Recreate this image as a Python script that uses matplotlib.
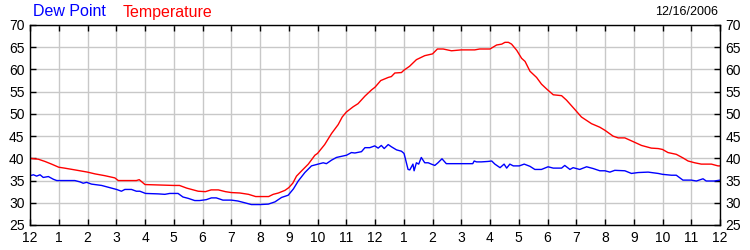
import matplotlib
matplotlib.use("Agg")
import matplotlib.pyplot as plt
import numpy as np

plt.rcParams["font.family"] = ["Liberation Sans", "DejaVu Sans"]

# hours since midnight
temp_hours = [0.0, 0.29, 0.52, 0.75, 1.0, 1.2, 1.56, 2.0, 2.26, 2.6, 2.95, 3.07, 3.7, 3.8, 4.0,
              5.0, 5.2, 5.45, 5.85, 6.1, 6.3, 6.55, 6.8, 7.0, 7.3, 7.6, 7.85, 8.0,
              8.3, 8.46, 8.64, 8.87, 9.0, 9.14, 9.27, 9.45, 9.68, 9.91, 10.0, 10.25, 10.49,
              10.72, 10.86, 11.0, 11.24, 11.41, 11.65, 11.88, 12.0, 12.2, 12.46, 12.57, 12.69,
              12.92, 13.0, 13.2, 13.44, 13.73, 14.0, 14.17, 14.37, 14.66, 15.0, 15.47, 15.64,
              15.93, 16.0, 16.23, 16.41, 16.52, 16.64, 16.75, 16.93, 17.1, 17.22, 17.39, 17.62,
              17.79, 17.97, 18.2, 18.49, 18.66, 18.95, 19.18, 19.53, 19.82, 20.0, 20.28, 20.46,
              20.69, 21.0, 21.27, 21.61, 21.85, 22.0, 22.19, 22.48, 22.71, 22.89, 23.12, 23.35,
              23.7, 23.93, 24.0]
temperature = [40.0, 39.8, 39.3, 38.7, 38.0, 37.8, 37.4, 36.9, 36.5, 36.1, 35.6, 35.0, 35.0, 35.2, 34.1,
               33.9, 33.9, 33.3, 32.6, 32.5, 32.9, 32.9, 32.5, 32.3, 32.2, 31.9, 31.4, 31.4,
               31.4, 31.9, 32.2, 32.8, 33.4, 34.4, 36.0, 37.2, 38.7, 40.7, 41.1, 43.1, 45.6,
               47.6, 49.3, 50.4, 51.6, 52.3, 54.0, 55.4, 56.0, 57.5, 58.2, 58.4, 59.2,
               59.3, 59.8, 60.7, 62.2, 63.1, 63.5, 64.6, 64.6, 64.2, 64.4, 64.4, 64.6,
               64.6, 64.6, 65.5, 65.7, 66.1, 66.1, 65.7, 64.3, 62.5, 61.8, 59.6, 58.2,
               56.7, 55.6, 54.3, 54.1, 53.1, 51.0, 49.3, 47.8, 47.0, 46.3, 45.0, 44.6,
               44.6, 43.7, 42.9, 42.3, 42.2, 42.0, 41.3, 40.9, 40.1, 39.4, 39.0, 38.7,
               38.7, 38.3, 38.3]

dew_hours = [0.0, 0.12, 0.23, 0.35, 0.46, 0.64, 0.81, 0.93, 1.56, 1.74, 1.85, 1.97, 2.14, 2.49,
             2.72, 3.01, 3.18, 3.3, 3.53, 3.7, 3.82, 4.02, 4.46, 4.69, 4.86, 5.15, 5.32, 5.5,
             5.73, 5.9, 6.13, 6.31, 6.48, 6.71, 7.0, 7.23, 7.47, 7.7, 8.0,
             8.29, 8.52, 8.75, 8.98, 9.16, 9.33, 9.56, 9.79, 10.02, 10.2, 10.31, 10.49, 10.66,
             11.01, 11.18, 11.3, 11.53, 11.65, 11.82, 11.99, 12.11, 12.22, 12.32, 12.46, 12.57,
             12.75, 12.92, 13.01, 13.15, 13.21, 13.32, 13.36, 13.44, 13.52, 13.61, 13.73, 13.85,
             13.96, 14.08, 14.19, 14.33, 14.48, 15.0, 15.4, 15.45, 15.53, 15.7, 15.93, 16.06,
             16.17, 16.35, 16.49, 16.58, 16.69, 16.81, 17.02, 17.19, 17.39, 17.56, 17.79, 18.02,
             18.2, 18.49, 18.6, 18.78, 18.89, 19.12, 19.36, 19.59, 19.82, 20.0, 20.17, 20.34,
             20.69, 20.92, 21.15, 21.5, 21.85, 22.0, 22.31, 22.48, 22.71, 23.0, 23.18, 23.41,
             23.52, 23.81, 24.0]
dew_point = [36.1, 36.3, 36.0, 36.3, 35.7, 35.9, 35.3, 35.0, 35.0, 34.7, 34.4, 34.6, 34.2, 33.9,
             33.5, 33.0, 32.6, 33.0, 33.0, 32.6, 32.6, 32.1, 32.0, 31.9, 32.1, 32.1, 31.3, 31.0,
             30.5, 30.5, 30.7, 31.1, 31.1, 30.6, 30.6, 30.4, 30.0, 29.6, 29.6,
             29.7, 30.2, 31.2, 31.7, 33.1, 34.9, 36.8, 38.3, 38.7, 39.0, 38.8, 39.6, 40.2,
             40.7, 41.3, 41.2, 41.5, 42.4, 42.4, 42.8, 42.3, 42.9, 42.2, 43.1, 42.6,
             41.9, 41.6, 41.1, 37.5, 37.4, 38.7, 37.2, 39.0, 38.7, 40.2, 39.0, 39.0,
             38.7, 38.4, 39.0, 39.9, 38.8, 38.8, 38.8, 39.4, 39.2, 39.2, 39.3, 39.4,
             38.7, 37.9, 38.7, 37.8, 38.7, 38.3, 38.3, 38.7, 38.2, 37.5, 37.5, 38.1,
             37.8, 37.8, 38.4, 37.5, 37.9, 37.5, 38.1, 37.7, 37.2, 37.2, 36.9, 37.3,
             37.2, 36.6, 36.8, 36.9, 36.6, 36.4, 36.2, 36.2, 35.1, 35.1, 34.9, 35.4,
             34.9, 34.9, 35.1]

hour_labels = ["12", "1", "2", "3", "4", "5", "6", "7", "8", "9", "10", "11",
               "12", "1", "2", "3", "4", "5", "6", "7", "8", "9", "10", "11", "12"]
y_ticks = [25, 30, 35, 40, 45, 50, 55, 60, 65, 70]
date_text = "12/16/2006"

fig = plt.figure(figsize=(7.5, 2.5), dpi=100)
ax = fig.add_axes([30 / 750, 25 / 250, 690 / 750, 200 / 250])

ax.plot(temp_hours, temperature, color="#ff0000", lw=1)
ax.plot(dew_hours, dew_point, color="#0000ff", lw=1)

ax.set_xlim(0, 24)
ax.set_ylim(25, 70)
ax.set_xticks(np.arange(25))
ax.set_xticklabels(hour_labels)
ax.set_yticks(y_ticks)
ax.grid(True, color="#c8c8c8", lw=1)
ax.set_axisbelow(True)
ax.tick_params(direction="in", length=4, width=1, color="black", labelsize=10,
               top=True, right=True, labelright=True, pad=4)
for s in ax.spines.values():
    s.set_linewidth(1)

fig.text(33 / 750, 1 - 12 / 250, "Dew Point", color="#0000ff", fontsize=11.5, va="center", ha="left")
fig.text(123 / 750, 1 - 12 / 250, "Temperature", color="#ff0000", fontsize=11.5, va="center", ha="left")
fig.text(718 / 750, 1 - 12 / 250, date_text, color="black", fontsize=9, va="center", ha="right")

fig.savefig("out.png", dpi=100)
